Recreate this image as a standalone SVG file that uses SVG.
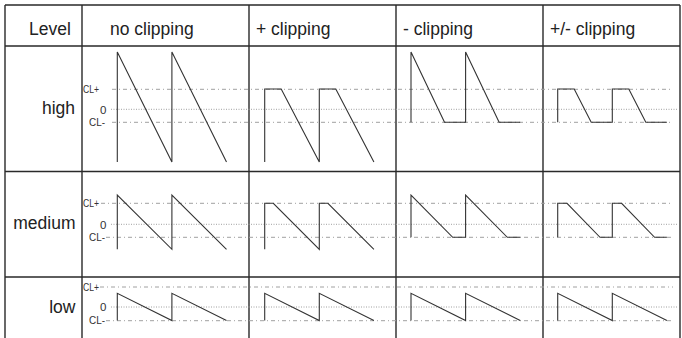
<svg xmlns="http://www.w3.org/2000/svg" width="682" height="338" viewBox="0 0 682 338">
<style>
.grid{stroke:#2a2a2a;stroke-width:1.4;fill:none}
.wave{stroke:#333;stroke-width:1.1;fill:none;stroke-linejoin:miter}
.cl{stroke:#a0a0a0;stroke-width:1;stroke-dasharray:4 3 1 3;fill:none}
.zero{stroke:#a0a0a0;stroke-width:1;stroke-dasharray:1 1.5;fill:none}
.hd{font-family:"Liberation Sans",Arial,sans-serif;font-size:17.5px;fill:#222}
.sm{font-family:"Liberation Sans",Arial,sans-serif;font-size:11.5px;fill:#333}
</style>
<rect width="682" height="338" fill="#fff"/>
<g id="table">
<path class="grid" d="M5,5 H680 M5,46 H680 M5,171.5 H680 M5,277 H680 M5,5 V338 M82,5 V338 M249,5 V338 M396,5 V338 M543,5 V338 M680,5 V338"/>
</g>
<g id="header">
<text class="hd" x="29" y="34.5">Level</text>
<text class="hd" x="110" y="34.5">no clipping</text>
<text class="hd" x="256" y="34.5">+ clipping</text>
<text class="hd" x="403" y="34.5">- clipping</text>
<text class="hd" x="550" y="34.5">+/- clipping</text>
</g>
<g id="row-high">
<text class="hd" x="75" y="113.5" text-anchor="end">high</text>
<text class="sm" x="83" y="93.2" textLength="16" lengthAdjust="spacingAndGlyphs">CL+</text>
<text class="sm" x="106.5" y="113.5" text-anchor="end">0</text>
<text class="sm" x="89" y="126.2" textLength="16" lengthAdjust="spacingAndGlyphs">CL-</text>
<path class="cl" d="M112,89.3 H673 M112,122.3 H673"/>
<path class="zero" d="M111,109.3 H677"/>
<path class="wave" d="M117.3,162 V52 L171.9,162 V52 L226.5,162"/>
<path class="wave" d="M264.7,162 V89 H281.2 L319.3,162 V89 H335.8 L373.9,162"/>
<path class="wave" d="M411,122.3 V52 L444.5,122.3 H465.6 V52 L499.1,122.3 H520.2"/>
<path class="wave" d="M557.7,122.3 V89 H574.2 L591.2,122.3 H612.3 V89 H628.8 L645.8,122.3 H666.9"/>
</g>
<g id="row-medium">
<text class="hd" x="75.5" y="228.5" text-anchor="end">medium</text>
<text class="sm" x="83" y="207.2" textLength="16" lengthAdjust="spacingAndGlyphs">CL+</text>
<text class="sm" x="106.5" y="228.5" text-anchor="end">0</text>
<text class="sm" x="89" y="241.2" textLength="16" lengthAdjust="spacingAndGlyphs">CL-</text>
<path class="cl" d="M101,203.3 H673 M106,237.3 H673"/>
<path class="zero" d="M111,224.3 H677"/>
<path class="wave" d="M117.3,249.3 V195 L171.9,249.3 V195 L226.5,249.3"/>
<path class="wave" d="M264.7,249.3 V203.3 H273.3 L319.3,249.3 V203.3 H327.9 L373.9,249.3"/>
<path class="wave" d="M411,237.3 V195 L452.7,237.3 H465.6 V195 L507.3,237.3 H520.2"/>
<path class="wave" d="M557.7,237.3 V203.3 H567 L600,237.3 H612.3 V203.3 H621.6 L654.6,237.3 H666.9"/>
</g>
<g id="row-low">
<text class="hd" x="75.5" y="313" text-anchor="end">low</text>
<text class="sm" x="83" y="290.9" textLength="16" lengthAdjust="spacingAndGlyphs">CL+</text>
<text class="sm" x="106.5" y="311.2" text-anchor="end">0</text>
<text class="sm" x="89" y="324.4" textLength="16" lengthAdjust="spacingAndGlyphs">CL-</text>
<path class="cl" d="M100,287 H673 M106,320.7 H673"/>
<path class="zero" d="M111,307 H677"/>
<path class="wave" d="M117.3,320.5 V293.3 L171.9,320.5 V293.3 L226.5,320.5"/>
<path class="wave" d="M264.7,320.5 V293.3 L319.3,320.5 V293.3 L373.9,320.5"/>
<path class="wave" d="M411,320.5 V293.3 L465.6,320.5 V293.3 L520.2,320.5"/>
<path class="wave" d="M557.7,320.5 V293.3 L612.3,320.5 V293.3 L666.9,320.5"/>
</g>
</svg>
